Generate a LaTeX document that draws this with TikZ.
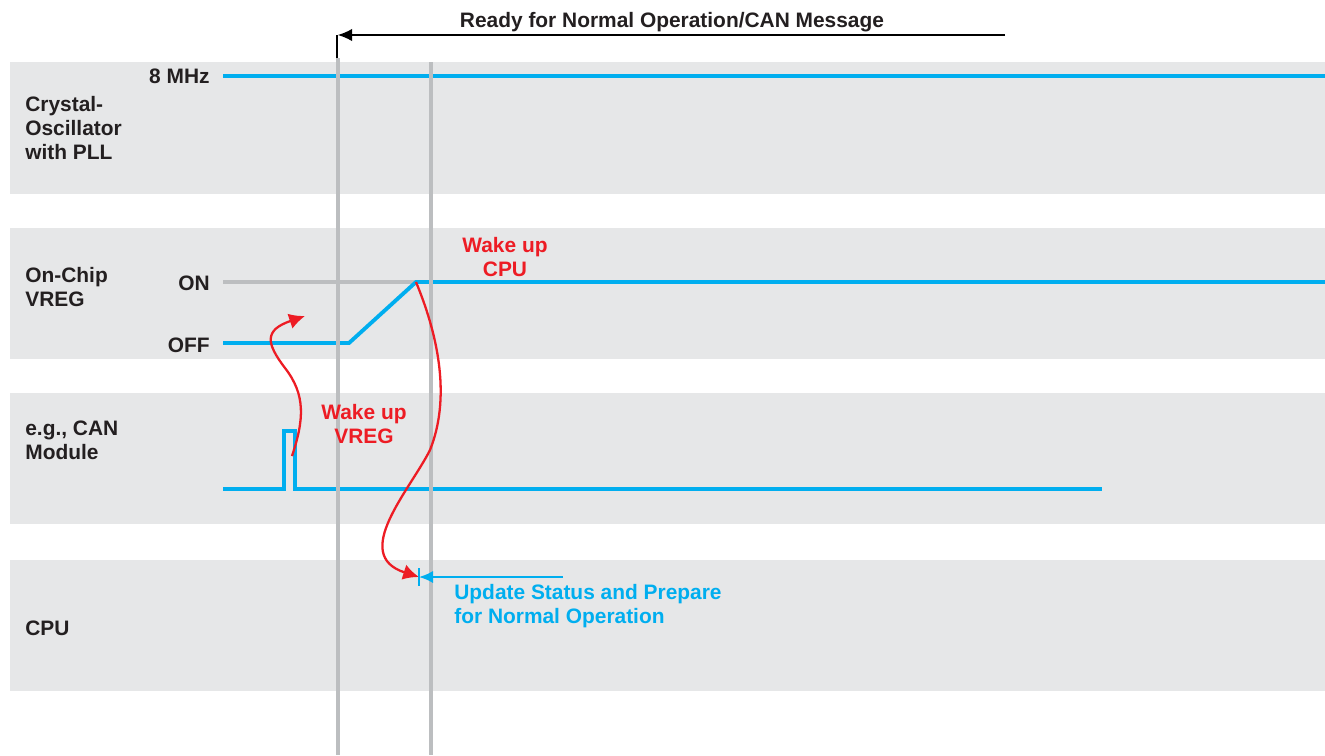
\documentclass[tikz,border=0pt]{standalone}
\usepackage{fontspec}
\setmainfont{Liberation Sans}
\usetikzlibrary{arrows.meta,calc}
\tikzset{>={Latex[length=8pt,width=7pt]}}
\definecolor{bandgray}{RGB}{230,231,232}
\definecolor{linegray}{RGB}{188,190,192}
\definecolor{sigblue}{RGB}{0,174,239}
\definecolor{wakered}{RGB}{237,28,36}
\definecolor{labelblack}{RGB}{35,31,32}
\tikzset{
  band/.style={fill=bandgray, draw=none},
  signal/.style={sigblue, line width=2.2pt},
  marker/.style={linegray, line width=1.8pt},
  wake/.style={wakered, line width=1.3pt, -{Latex[length=9pt,width=9pt]}},
  lbl/.style={font=\fontsize{11.9}{13.7}\selectfont\bfseries, text=labelblack, inner sep=0pt, align=left},
  redlbl/.style={lbl, text=wakered, align=center},
  bluelbl/.style={lbl, text=sigblue},
}

\begin{document}
\begin{tikzpicture}[x=0.02cm, y=-0.02cm]
    \useasboundingbox (0,0) rectangle (1325,755);

    % bands
    \fill [band] (10,62) rectangle (1325,194);
    \fill [band] (10,228) rectangle (1325,359);
    \fill [band] (10,393) rectangle (1325,524);
    \fill [band] (10,560) rectangle (1325,691);

    \node at (25,128) [lbl, anchor=west](osc){Crystal-\\Oscillator\\with PLL};
    \node at (25,287) [lbl, anchor=west](vreg){On-Chip\\VREG};
    \node at (25,440) [lbl, anchor=west](can){e.g., CAN\\Module};
    \node at (25,628) [lbl, anchor=west](cpu){CPU};
    \node at (210,76) [lbl, anchor=east](mhz){8 MHz};
    \node at (210,283) [lbl, anchor=east](on){ON};
    \node at (210,345) [lbl, anchor=east](off){OFF};

    % signals
    \draw [signal] (223,76) -- (1325,76);
    \draw [linegray, line width=2pt] (223,282) -- (416,282);
    \draw [signal] (223,343) -- (349,343) -- (416,282) -- (1325,282);
    \draw [signal] (223,489) -- (284,489) -- (284,431) -- (295,431) -- (295,489) -- (1102,489);

    \coordinate (ramptop) at (416,282);
    \coordinate (pulse) at (292,456);
    \coordinate (vregtip) at (305,316);
    \coordinate (cputick) at (419,577);
    \coordinate (cpuarrow) at (563,577);
    \coordinate (readytip) at (338,35);
    \coordinate (readyend) at (1005,35);

    % time markers
    \draw [black, line width=0.6pt] (337,35) -- (337,58);
    \draw [black, line width=0.6pt, ->] (readyend) -- (readytip);
    \node at (672,22) [lbl, align=center](ready){Ready for Normal Operation/CAN Message};
    \draw [marker] (338,58) -- (338,755);
    \draw [marker] (431,62) -- (431,755);

    % wake up paths
    \draw [wake] (pulse) .. controls (304,420) and (306,395) .. (285,368) .. controls (266,343) and (264,330) .. (vregtip);
    \draw [wake] (ramptop) .. controls (440,340) and (450,400) .. (430,450) .. controls (410,490) and (350,555) .. (cputick);
    \node at (364,424) [redlbl](wakevreg){Wake up\\VREG};
    \node at (505,257) [redlbl](wakecpu){Wake up\\CPU};

    \draw [sigblue, line width=1.1pt] (cputick) ++ (0,-9) --++ (0,18);
    \draw [sigblue, line width=1.2pt, ->] (cpuarrow) -- (cputick);
    \node at (454,606) [bluelbl, anchor=west](update){Update Status and Prepare\\for Normal Operation};
  \end{tikzpicture}
\end{document}
